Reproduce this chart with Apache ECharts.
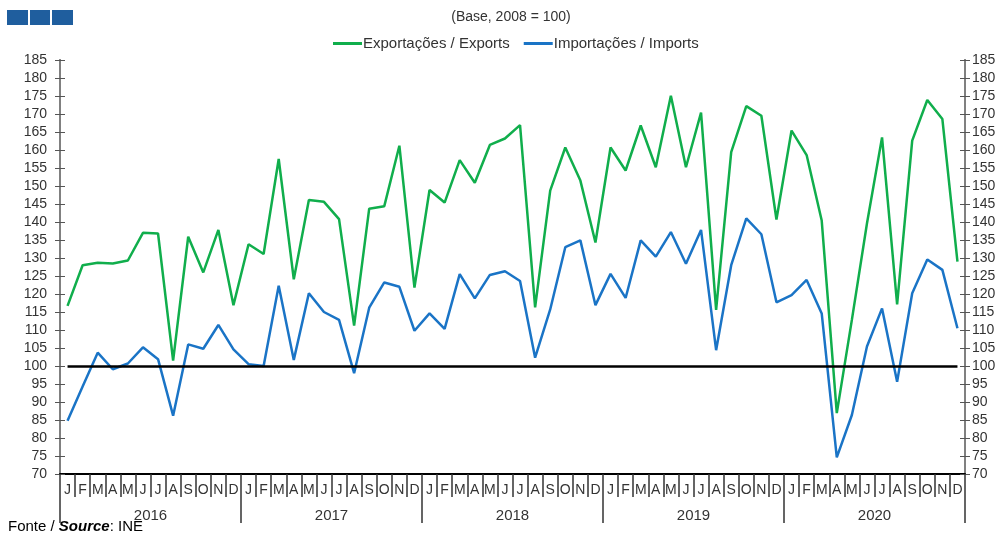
<!DOCTYPE html>
<html><head><meta charset="utf-8">
<script src="https://cdn.jsdelivr.net/npm/echarts@6/dist/echarts.min.js"></script>
<style>html,body{margin:0;padding:0;background:#fff}#c{width:1004px;height:533px}</style>
</head><body><div id="c"></div>
<script>
const years = ['2016','2017','2018','2019','2020'];
const monthLetters = ['J','F','M','A','M','J','J','A','S','O','N','D'];
const exportsIdx = [
  116.7,128,128.7,128.5,129.3,137,136.8,101.5,135.9,126,137.8,116.9,
  133.8,131.1,157.5,124.1,146.1,145.6,140.8,111.2,143.7,144.4,161.2,121.8,
  148.9,145.4,157.2,150.9,161.4,163.2,166.9,116.3,148.7,160.7,151.5,134.3,
  160.7,154.3,166.8,155.2,175.1,155.2,170.4,115.6,159.4,172.2,169.5,140.7,
  165.4,158.6,140.4,86.9,112.8,139.6,163.5,117.1,162.6,173.9,168.6,129.0
];
const importsIdx = [
  84.8,94.3,103.7,99.1,100.7,105.2,101.9,86.2,106,104.8,111.4,104.6,
  100.5,100,122.3,101.7,120.2,115,112.8,98,116.2,123.2,122,109.8,
  114.6,110.3,125.5,118.8,125.3,126.3,123.6,102.3,115.7,133,134.9,116.9,
  125.6,118.9,134.9,130.4,137.2,128.4,137.8,104.4,128,141,136.6,117.7,
  119.7,123.9,114.6,74.6,86.4,105.4,116,95.6,120.2,129.6,126.7,110.5
];
const BASE = 100;
const months = [];
years.forEach(y => monthLetters.forEach((m, i) => months.push(m)));

const FONT = 'Liberation Sans, Arial, sans-serif';
const chart = echarts.init(document.getElementById('c'), null, {renderer: 'canvas'});
const yCommon = {
  type: 'value', min: 70, max: 185, interval: 5,
  splitLine: {show: false},
  axisLine: {show: true, lineStyle: {color: '#808080', width: 2}}
};
chart.setOption({
  animation: false,
  backgroundColor: '#fff',
  title: {
    text: '(Base, 2008 = 100)', left: 506, top: 5, textAlign: 'center',
    textStyle: {fontSize: 14, fontWeight: 'normal', color: '#333', fontFamily: FONT}
  },
  legend: {
    top: 31, left: 328, itemGap: 14, itemWidth: 29, itemHeight: 3, icon: 'rect',
    textStyle: {fontSize: 15, color: '#333', fontFamily: FONT, padding: [0, 0, 0, -4]},
    data: ['Exportações / Exports', 'Importações / Imports']
  },
  graphic: [
    {type: 'rect', left: 7, top: 10, shape: {width: 21, height: 15}, style: {fill: '#1F5E9E'}},
    {type: 'rect', left: 30, top: 10, shape: {width: 20, height: 15}, style: {fill: '#1F5E9E'}},
    {type: 'rect', left: 52, top: 10, shape: {width: 21, height: 15}, style: {fill: '#1F5E9E'}},
    {type: 'text', left: 8, top: 519, style: {
      text: '{a|Fonte / }{b|Source}{a|: INE}',
      rich: {
        a: {fontSize: 15, color: '#333', fontFamily: FONT},
        b: {fontSize: 15, color: '#1F6FB8', fontFamily: FONT, fontWeight: 'bold', fontStyle: 'italic'}
      }
    }}
  ],
  grid: {left: 60, right: 39, top: 60, bottom: 59, containLabel: false},
  xAxis: [
    {
      type: 'category', data: months, boundaryGap: true, position: 'bottom',
      axisLine: {show: true, lineStyle: {color: '#000', width: 2}},
      axisTick: {show: true, interval: 0, length: 23, lineStyle: {color: '#333', width: 1.5}},
      axisLabel: {interval: 0, margin: 9, fontSize: 14, color: '#333', fontFamily: FONT}
    },
    {
      type: 'category', data: years, boundaryGap: true, position: 'bottom',
      axisLine: {show: false},
      axisTick: {show: true, interval: 0, length: 49, lineStyle: {color: '#333', width: 1.5}},
      axisLabel: {interval: 0, margin: 34, fontSize: 15, color: '#333', fontFamily: FONT}
    }
  ],
  yAxis: [
    Object.assign({}, yCommon, {position: 'left',
      axisTick: {show: true, length: 5, lineStyle: {color: '#555'}},
      axisLabel: {margin: 13, fontSize: 14, color: '#333', fontFamily: FONT}}),
    Object.assign({}, yCommon, {position: 'left',
      axisTick: {show: true, inside: true, length: 5, lineStyle: {color: '#555'}},
      axisLabel: {show: false}}),
    Object.assign({}, yCommon, {position: 'right',
      axisTick: {show: true, length: 5, lineStyle: {color: '#555'}},
      axisLabel: {margin: 7, fontSize: 14, color: '#333', fontFamily: FONT}}),
    Object.assign({}, yCommon, {position: 'right',
      axisTick: {show: true, inside: true, length: 5, lineStyle: {color: '#555'}},
      axisLabel: {show: false}})
  ],
  series: [
    {
      name: 'Exportações / Exports', type: 'line', data: exportsIdx,
      showSymbol: false, symbol: 'none', color: '#10AE4C',
      lineStyle: {width: 2.5, color: '#10AE4C'},
      markLine: {
        silent: true, symbol: 'none', label: {show: false},
        lineStyle: {color: '#000', width: 2.5, type: 'solid'},
        data: [[{coord: [0, BASE]}, {coord: [months.length - 1, BASE]}]]
      }
    },
    {
      name: 'Importações / Imports', type: 'line', data: importsIdx,
      showSymbol: false, symbol: 'none', color: '#1A74C6',
      lineStyle: {width: 2.5, color: '#1A74C6'}
    }
  ]
});
</script></body></html>
